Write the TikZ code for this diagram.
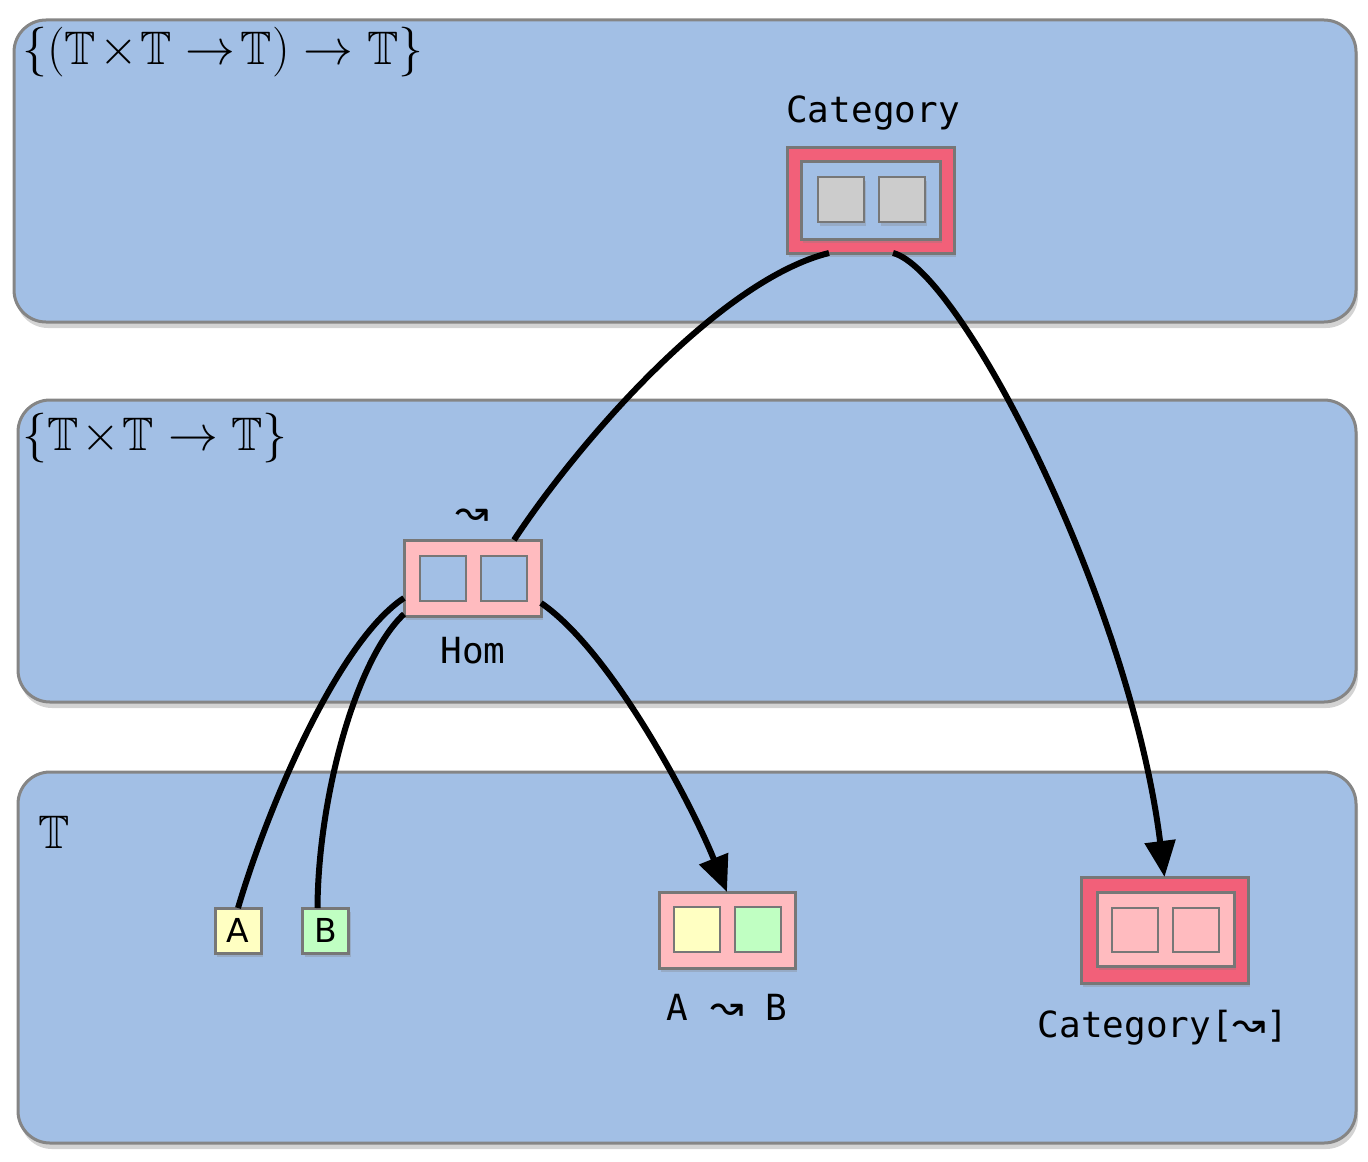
\documentclass[tikz,border=0pt]{standalone}
\usepackage{amssymb}
\usepackage{fontspec}
\setsansfont{DejaVu Sans}
\newfontfamily\codefont{DejaVu Sans Mono}
\newfontfamily\arrowfont{DejaVu Sans}
\usetikzlibrary{positioning,shadows,arrows.meta}
\definecolor{tierblue}{HTML}{A2BFE5}
\definecolor{tieredge}{HTML}{858585}
\definecolor{boxedge}{HTML}{777777}
\definecolor{catred}{HTML}{F26079}
\definecolor{hompink}{HTML}{FFBBBF}
\definecolor{cellgrey}{HTML}{CCCCCC}
\definecolor{cellyellow}{HTML}{FFFFC2}
\definecolor{cellgreen}{HTML}{C0FFC2}
\tikzstyle{tier} = [draw=tieredge,line width=1.5pt,fill=tierblue,rounded corners=16pt,outer sep=0,drop shadow={shadow xshift=1pt,shadow yshift=-3pt,opacity=0.35}]
\tikzstyle{bordered} = [draw=boxedge,line width=1.5pt,outer sep=0,inner sep=0,drop shadow={shadow xshift=1pt,shadow yshift=-2pt,opacity=0.3}]
\tikzstyle{slot} = [draw=boxedge,line width=1pt,outer sep=0,inner sep=0,minimum width=23pt,minimum height=22.5pt]
\tikzstyle{codelabel} = [font=\codefont\fontsize{18}{20}\selectfont]
\tikzstyle{typelabel} = [anchor=west,inner sep=0,font=\fontsize{23.5}{28}\selectfont]
\tikzstyle{arrow} = [-{Triangle[length=18pt,width=15pt]}]
\tikzstyle{wire} = [line width=3pt]
\newcommand{\squig}{{\arrowfont\fontsize{20}{20}\selectfont ↝}}

\begin{document}
\begin{tikzpicture}[x=0.5pt,y=-0.5pt]
    \useasboundingbox (0,0) rectangle (1368,1161);

    \node [tier,minimum width=671pt,minimum height=151pt] (t2) at (685,171) {};
    \node [tier,minimum width=669pt,minimum height=151pt] (t1) at (687,551) {};
    \node [tier,minimum width=669pt,minimum height=185.5pt] (t0) at (687,957.5) {};
    \node [typelabel] (t2lbl) at (22,52) {$\{(\mathbb{T}\!\times\!\mathbb{T}\to\!\mathbb{T})\to\mathbb{T}\}$};
    \node [typelabel] (t1lbl) at (22,438) {$\{\mathbb{T}\!\times\!\mathbb{T}\to\mathbb{T}\}$};
    \node [typelabel] (t0lbl) at (38,832) {$\mathbb{T}$};

    \node [bordered,fill=catred,minimum width=83.5pt,minimum height=53pt] (cat) at (870.5,200) {};
    \node [bordered,fill=tierblue,minimum width=69.5pt,minimum height=39pt] (catin) at (870.5,200) {};
    \node [slot,fill=cellgrey,drop shadow={shadow xshift=1pt,shadow yshift=-2pt,opacity=0.3}] (cats1) at (841,199.5) {};
    \node [slot,fill=cellgrey,drop shadow={shadow xshift=1pt,shadow yshift=-2pt,opacity=0.3}] (cats2) at (902,199.5) {};
    \node [codelabel] (catlbl) at (873,113) {Category};

    \node [bordered,fill=hompink,minimum width=68.5pt,minimum height=38pt] (hom) at (472.5,578) {};
    \node [slot,fill=tierblue] (homs1) at (442.5,578.5) {};
    \node [slot,fill=tierblue] (homs2) at (503.5,578.5) {};
    \node [] (homsym) at (472,517) {\squig};
    \node [codelabel] (homlbl) at (473,651) {Hom};

    \node [bordered,fill=cellyellow,minimum width=23pt,minimum height=22.5pt,font=\sffamily\fontsize{16.5}{18}\selectfont] (a) at (238,930.5) {A};
    \node [bordered,fill=cellgreen,minimum width=23pt,minimum height=22.5pt,font=\sffamily\fontsize{16.5}{18}\selectfont] (b) at (325.5,930.5) {B};

    \node [bordered,fill=hompink,minimum width=68pt,minimum height=38pt] (ab) at (727,930) {};
    \node [slot,fill=cellyellow] (abs1) at (697,929.5) {};
    \node [slot,fill=cellgreen] (abs2) at (758,929.5) {};
    \node [codelabel] (ablbl) at (727,1007) {A \squig{} B};

    \node [bordered,fill=catred,minimum width=83.5pt,minimum height=53pt] (catarr) at (1164.5,930) {};
    \node [bordered,fill=hompink,minimum width=68.5pt,minimum height=37pt,drop shadow={opacity=0}] (catarrin) at (1165.5,929) {};
    \node [slot,fill=hompink,minimum height=22pt] (catarrs1) at (1135,930) {};
    \node [slot,fill=hompink,minimum height=22pt] (catarrs2) at (1196,930) {};
    \node [codelabel] (catarrlbl) at (1163,1028) {Category[\squig]};

    \draw [wire] ([xshift=-20.75pt]cat.south) .. controls (720,280) and (580,440) .. ([xshift=20.75pt]hom.north);
    \draw [wire,arrow] ([xshift=11.25pt]cat.south) .. controls (960,270) and (1130,600) .. (catarr.north);
    \draw [wire] ([yshift=-10pt]hom.west) .. controls (340,640) and (270,800) .. (a.north);
    \draw [wire] ([yshift=-18pt]hom.west) .. controls (355,660) and (318,800) .. ([xshift=-4pt]b.north);
    \draw [wire,arrow] ([yshift=-12.5pt]hom.east) .. controls (610,650) and (690,800) .. (ab.north);
  \end{tikzpicture}
\end{document}
